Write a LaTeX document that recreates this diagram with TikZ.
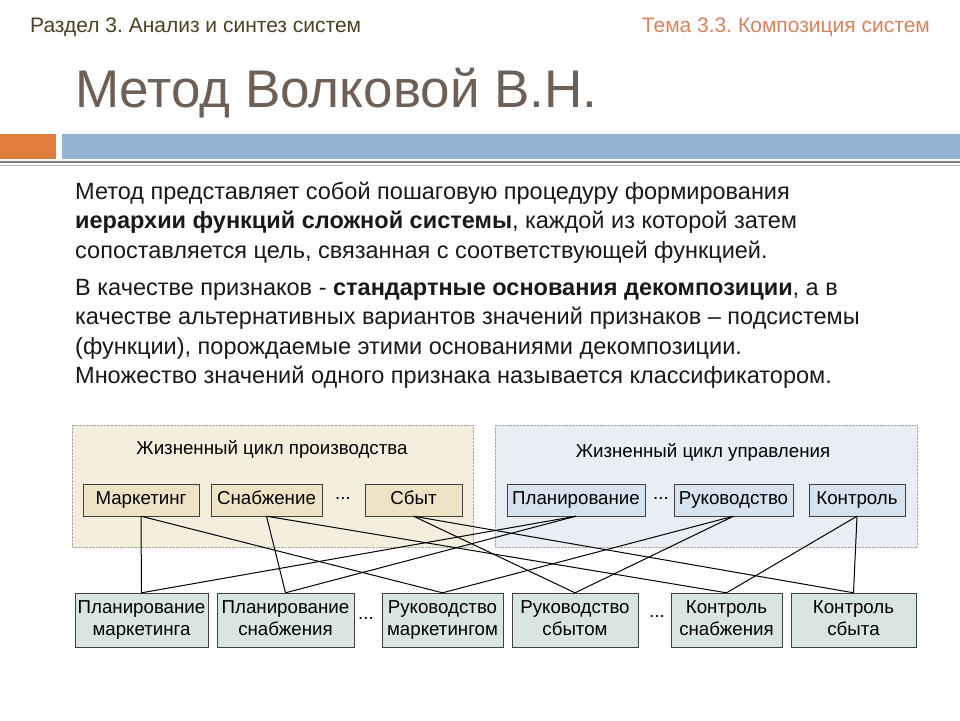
\documentclass[tikz,border=0pt]{standalone}
\usepackage{fontspec}
\setmainfont{Liberation Sans}
\usepackage{xcolor}
\usetikzlibrary{positioning}
\definecolor{hdrleft}{HTML}{4A4220}
\definecolor{hdrright}{HTML}{D9825B}
\definecolor{titlegray}{HTML}{6E5F57}
\definecolor{barorange}{HTML}{DF7E3D}
\definecolor{barblue}{HTML}{93B4D2}
\definecolor{prodfill}{HTML}{F4EEDD}
\definecolor{uprfill}{HTML}{E8EEF4}
\definecolor{prodbox}{HTML}{EEE3C4}
\definecolor{uprbox}{HTML}{D7E3EE}
\definecolor{funcbox}{HTML}{D9E6E0}
\frenchspacing

\begin{document}
\begin{tikzpicture}[x=1pt,y=-1pt,
  container/.style={draw=gray!70,densely dotted,inner sep=0pt},
  feature/.style={draw=black!75,inner sep=0pt,minimum height=32pt,font=\fontsize{18.7}{22}\selectfont},
  func/.style={draw=black!75,fill=funcbox,inner sep=0pt,minimum height=54pt,align=center,font=\fontsize{18.7}{22}\selectfont},
  caption/.style={inner sep=0pt,font=\fontsize{18.7}{22}\selectfont},
  para/.style={anchor=north west,inner sep=0pt,align=left,text=black!90,font=\fontsize{23.5}{29.4}\selectfont},
  link/.style={black,line width=1pt}]
  \useasboundingbox (0,0) rectangle (960,720);
  \fill[white] (0,0) rectangle (960,720);

  % заголовок
  \node[anchor=base west,inner sep=0pt,text=hdrleft,font=\fontsize{21}{24}\selectfont] (razdel) at (30,32) {Раздел 3. Анализ и синтез систем};
  \node[anchor=base east,inner sep=0pt,text=hdrright,font=\fontsize{21}{24}\selectfont] (tema) at (930,32) {Тема 3.3. Композиция систем};
  \node[anchor=base west,inner sep=0pt,text=titlegray,font=\fontsize{53}{60}\selectfont] (title) at (75,107) {Метод Волковой В.Н.};

  \fill[barorange] (0,134) rectangle (56,159);
  \fill[barblue] (62,134) rectangle (960,159);
  \draw[gray,line width=2.5pt] (0,162) -- (960,162);
  \draw[gray!60,line width=1.2pt] (0,165.5) -- (960,165.5);

  % текст
  \node[para] (par1) at (75,178.5)
    {\strut Метод представляет собой пошаговую процедуру формирования\\
     \textbf{иерархии функций сложной системы}, каждой из которой затем\\
     сопоставляется цель, связанная с соответствующей функцией.};
  \node[para] (par2) at (75,274.5)
    {\strut В качестве признаков - \textbf{стандартные основания декомпозиции}, а в\\
     качестве альтернативных вариантов значений признаков -- подсистемы\\
     (функции), порождаемые этими основаниями декомпозиции.\\
     Множество значений одного признака называется классификатором.};

  % жизненные циклы
  \node[container,fill=prodfill,minimum width=401pt,minimum height=122pt] (prod) at (272.5,486) {};
  \node[container,fill=uprfill,minimum width=422pt,minimum height=122pt] (upr) at (706,486) {};
  \node[caption] (prodtitle) at (272,449) {Жизненный цикл производства};
  \node[caption] (uprtitle) at (703,452) {Жизненный цикл управления};

  \node[feature,fill=prodbox,minimum width=116pt] (mark) at (141,500) {\strut Маркетинг};
  \node[feature,fill=prodbox,minimum width=111pt] (snab) at (266.5,500) {\strut Снабжение};
  \node[caption] (dots1) at (343,498) {...};
  \node[feature,fill=prodbox,minimum width=97pt] (sbyt) at (413.5,500) {\strut Сбыт};
  \node[feature,fill=uprbox,minimum width=138pt] (plan) at (576,500) {\strut Планирование};
  \node[caption] (dots2) at (661,498) {...};
  \node[feature,fill=uprbox,minimum width=119pt] (ruk) at (733.5,500) {\strut Руководство};
  \node[feature,fill=uprbox,minimum width=96pt] (kontr) at (857,500) {\strut Контроль};

  % функции
  \node[func,minimum width=133pt] (pm) at (141.5,620) {\strut Планирование\\\strut маркетинга};
  \node[func,minimum width=137pt] (ps) at (285.5,620) {\strut Планирование\\\strut снабжения};
  \node[caption] (dots3) at (366,618) {...};
  \node[func,minimum width=121pt] (rm) at (442.5,620) {\strut Руководство\\\strut маркетингом};
  \node[func,minimum width=126pt] (rs) at (575,620) {\strut Руководство\\\strut сбытом};
  \node[caption] (dots4) at (657,616) {...};
  \node[func,minimum width=111pt] (ks) at (726.5,620) {\strut Контроль\\\strut снабжения};
  \node[func,minimum width=125pt] (ksb) at (853.5,620) {\strut Контроль\\\strut сбыта};

  \foreach \a/\b in {mark/pm,mark/rm,snab/ps,snab/ks,sbyt/rs,sbyt/ksb,plan/pm,plan/ps,ruk/rm,ruk/rs,kontr/ks,kontr/ksb}
    \draw[link] (\a.south) -- (\b.north);
\end{tikzpicture}
\end{document}
